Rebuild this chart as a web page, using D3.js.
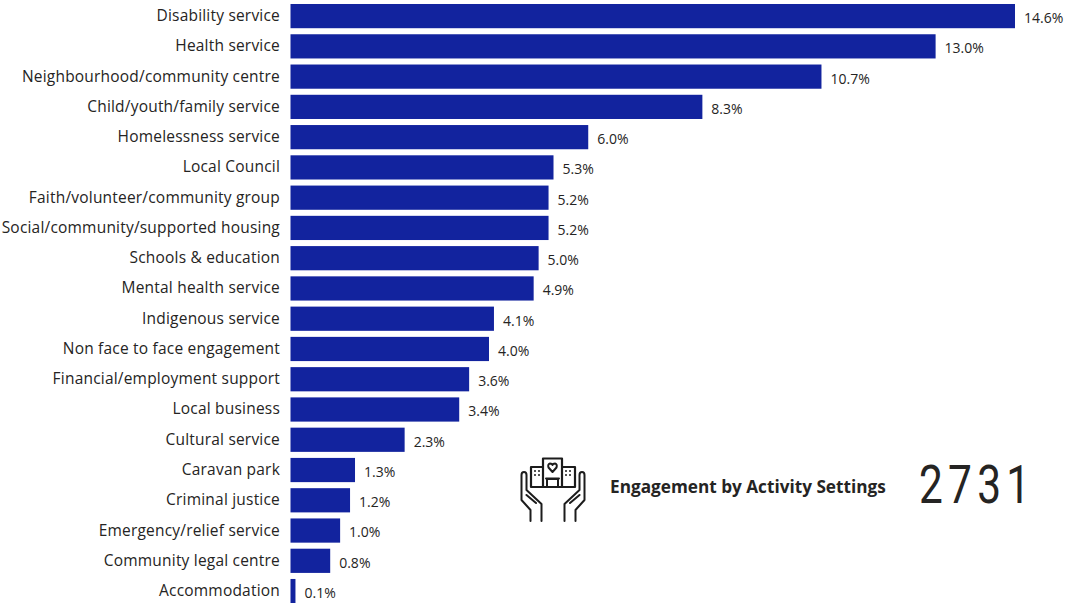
<!DOCTYPE html>
<html>
<head>
<meta charset="utf-8">
<script src="https://cdn.jsdelivr.net/npm/d3@7/dist/d3.min.js"></script>
<style>
html,body{margin:0;padding:0;background:#fff;}
svg{display:block;}
text{font-family:"Open Sans","Noto Sans",sans-serif;}
</style>
</head>
<body>
<svg id="chart" width="1065" height="603"></svg>
<script>
const categories = [
  "Disability service","Health service","Neighbourhood/community centre","Child/youth/family service",
  "Homelessness service","Local Council","Faith/volunteer/community group","Social/community/supported housing",
  "Schools & education","Mental health service","Indigenous service","Non face to face engagement",
  "Financial/employment support","Local business","Cultural service","Caravan park","Criminal justice",
  "Emergency/relief service","Community legal centre","Accommodation"
];
const shares = [14.6,13.0,10.7,8.3,6.0,5.3,5.2,5.2,5.0,4.9,4.1,4.0,3.6,3.4,2.3,1.3,1.2,1.0,0.8,0.1];
const chartTitle = "Engagement by Activity Settings";
const totalEngagements = 2731;

const svg = d3.select("#chart");
const x = d3.scaleLinear().domain([0,14.6]).range([290.5,1015]);
const y = d3.scaleBand().domain(categories).range([0.97,606.2]).paddingInner(0.2).paddingOuter(0.1);

svg.append("g").selectAll("rect").data(categories).join("rect")
  .attr("x", x(0))
  .attr("y", d => y(d))
  .attr("width", (d,i) => x(shares[i]) - x(0))
  .attr("height", y.bandwidth())
  .attr("fill", "#12239e");

const axis = d3.axisLeft(y).tickSize(0).tickPadding(10.5);
const axisG = svg.append("g").attr("transform", `translate(${x(0)},0)`).call(axis);
axisG.select(".domain").remove();
axisG.selectAll("text").attr("font-size", 15.5).attr("letter-spacing", 0.2).attr("fill", "#252423")
  .style("font-family", '"Open Sans","Noto Sans",sans-serif');

svg.append("g").selectAll("text").data(categories).join("text")
  .attr("x", (d,i) => x(shares[i]) + 9)
  .attr("y", d => y(d) + y.bandwidth()/2 + 2)
  .attr("dy", "0.35em")
  .attr("font-size", 14)
  .attr("fill", "#252423")
  .text((d,i) => shares[i].toFixed(1) + "%");

svg.append("text").attr("x", 610).attr("y", 493)
  .attr("font-size", 17.2).attr("font-weight", 700).attr("fill", "#252423")
  .text(chartTitle);

// Large total: narrowed digits with open tracking
svg.append("text").attr("transform", "translate(919,503) scale(0.8,1)")
  .attr("font-size", 53).attr("letter-spacing", 6.6).attr("fill", "#252423")
  .style("font-family", "Roboto, sans-serif").attr("font-weight", 400)
  .text(totalEngagements);

// Hands cradling a group of buildings
const icon = svg.append("g").attr("fill", "none").attr("stroke", "#1c1c1c")
  .attr("stroke-width", 2).attr("stroke-linejoin", "round").attr("stroke-linecap", "round");
const hand = "M530.5,521 L530.5,510 L521.5,500 L521.5,475 Q521.5,472 524,472 Q526.5,472 526.5,475 L526.5,490 L541.5,504 L541.5,521 M526.5,495 L536,503";
icon.append("path").attr("d", hand);
icon.append("path").attr("d", hand).attr("transform", "translate(1106,0) scale(-1,1)");
icon.append("path").attr("stroke-width", 2.2).attr("d",
  "M531,487 L575,487 M531,487 L531,467 L543,467 M575,487 L575,467 L562,467 M543,487 L543,458.5 L562,458.5 L562,487");
icon.append("path").attr("d", "M547,487 L547,479 L558,479 L558,487 M546,478.5 L559,478.5");
icon.append("path").attr("d", "M552.5,472 L548.5,467.5 Q547.5,464 550,463.5 Q552,463.5 552.5,465 Q553,463.5 555,463.5 Q557.5,464 556.5,467.5 Z");
icon.append("g").attr("stroke-width", 1.4).attr("stroke-linecap", "butt").attr("stroke-dasharray", "2 2").selectAll("path")
  .data(["M534,471 H541","M534,475 H541","M565,471 H572","M565,475 H572"]).join("path").attr("d", d => d);
</script>
</body>
</html>
